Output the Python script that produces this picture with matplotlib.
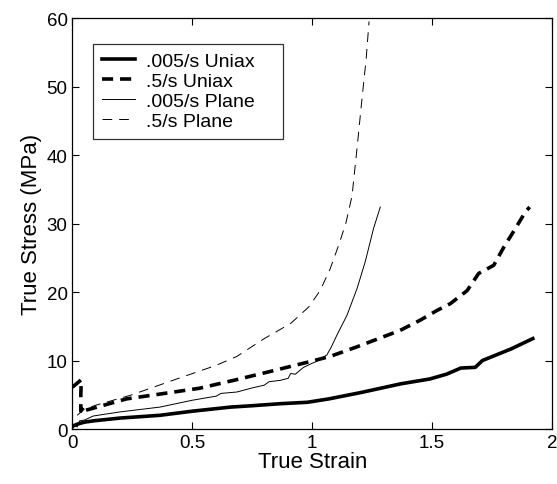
import numpy as np
import matplotlib
matplotlib.use('Agg')
import matplotlib.pyplot as plt

plt.rcParams['font.family'] = ['Liberation Sans', 'DejaVu Sans']
plt.rcParams['lines.scale_dashes'] = False

# .005/s Uniax
eps_u1 = [0.0, 0.02, 0.05, 0.09, 0.2, 0.365, 0.5, 0.66, 0.75, 0.87, 0.98, 1.07, 1.2, 1.37, 1.49, 1.56, 1.62, 1.68, 1.71, 1.83, 1.92]
sig_u1 = [0.4, 0.7, 1.0, 1.2, 1.6, 2.0, 2.6, 3.2, 3.4, 3.7, 3.9, 4.4, 5.3, 6.6, 7.3, 8.0, 8.9, 9.0, 10.0, 11.7, 13.2]

# .5/s Uniax
eps_u2 = [0.0, 0.037, 0.035, 0.035, 0.045, 0.052, 0.226, 0.365, 0.53, 0.672, 0.825, 0.992, 1.075, 1.187, 1.367, 1.451, 1.52, 1.576, 1.646, 1.694, 1.757, 1.80, 1.848, 1.889, 1.907]
sig_u2 = [6.1, 7.2, 4.9, 2.6, 3.3, 2.7, 4.4, 5.1, 5.95, 7.1, 8.4, 9.85, 10.6, 12.0, 14.4, 15.9, 17.3, 18.3, 20.2, 22.7, 23.9, 26.6, 29.3, 31.7, 32.4]

# .005/s Plane
eps_p1 = [0.0, 0.01, 0.02, 0.03, 0.05, 0.087, 0.2, 0.365, 0.5, 0.6, 0.62, 0.686, 0.75, 0.8, 0.82, 0.866, 0.9, 0.91, 0.93, 0.95, 0.964, 1.0, 1.02, 1.061, 1.08, 1.103, 1.145, 1.187, 1.221, 1.256, 1.284]
sig_p1 = [0.0, 0.6, 0.3, 1.2, 1.3, 1.9, 2.5, 3.2, 4.2, 4.8, 5.2, 5.4, 6.0, 6.4, 6.9, 7.1, 7.4, 8.1, 8.0, 8.6, 9.0, 9.6, 9.9, 10.8, 12.0, 13.7, 16.6, 20.5, 24.4, 29.3, 32.4]

# .5/s Plane
eps_p2 = [0.02, 0.05, 0.1, 0.24, 0.435, 0.6, 0.686, 0.8, 0.91, 0.985, 1.033, 1.075, 1.11, 1.14, 1.166, 1.187, 1.207, 1.225, 1.237]
sig_p2 = [2.0, 2.9, 3.5, 4.9, 7.3, 9.3, 10.6, 13.2, 15.4, 17.8, 20.2, 23.4, 26.8, 30.0, 34.0, 41.0, 48.0, 54.0, 59.5]

fig = plt.figure(figsize=(5.57, 4.85), dpi=100)
ax = fig.add_axes([0.130, 0.1134, 0.861, 0.8474])

ax.plot(eps_u1, sig_u1, color='k', lw=2.6, label='.005/s Uniax')
ax.plot(eps_u2, sig_u2, color='k', lw=2.6, dashes=(8, 5), label='.5/s Uniax')
ax.plot(eps_p1, sig_p1, color='k', lw=0.7, label='.005/s Plane')
ax.plot(eps_p2, sig_p2, color='k', lw=0.7, dashes=(7, 5), label='.5/s Plane')

ax.set_xlim(0, 2)
ax.set_ylim(0, 60)
ax.set_xticks([0, 0.5, 1, 1.5, 2])
ax.set_xticklabels(['0', '0.5', '1', '1.5', '2'])
ax.set_yticks([0, 10, 20, 30, 40, 50, 60])
ax.tick_params(direction='in', top=True, right=True, length=5, width=0.8, labelsize=13.5)
for s in ax.spines.values():
    s.set_linewidth(0.9)

ax.set_xlabel('True Strain', fontsize=16, labelpad=0)
ax.set_ylabel('True Stress (MPa)', fontsize=16, labelpad=3)

leg = ax.legend(loc='upper left', bbox_to_anchor=(0.043, 0.5, 0.396, 0.437), mode='expand',
                borderaxespad=0, fontsize=14, frameon=True, fancybox=False, handlelength=1.7,
                labelspacing=0.12, handletextpad=0.55, borderpad=0.45)
leg.get_frame().set_edgecolor('k')
leg.get_frame().set_linewidth(0.9)

plt.savefig('out.png', dpi=100)
